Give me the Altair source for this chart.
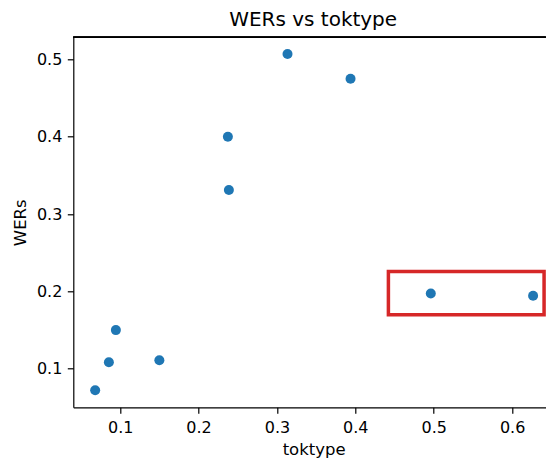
import altair as alt
import pandas as pd

# data
toktype = [0.0681, 0.0856, 0.0945, 0.150, 0.2374, 0.2387, 0.3135, 0.3939, 0.4963, 0.6268]
wers = [0.0722, 0.1084, 0.150, 0.111, 0.400, 0.331, 0.507, 0.475, 0.1974, 0.1943]

# highlight box (data coordinates)
box_x = [0.4422]
box_x2 = [0.6408]
box_y = [0.2258]
box_y2 = [0.1698]

x_domain = [0.0402, 0.6430]
y_domain = [0.0502, 0.5285]
x_ticks = [0.1, 0.2, 0.3, 0.4, 0.5, 0.6]
y_ticks = [0.1, 0.2, 0.3, 0.4, 0.5]

W, H = 472.5, 370
FONT = "DejaVu Sans"

df = pd.DataFrame({"toktype": toktype, "WERs": wers})
box_df = pd.DataFrame({"toktype": box_x, "toktype_end": box_x2, "WERs": box_y, "WERs_end": box_y2})

x_axis = alt.Axis(values=x_ticks, format=".1f", title="toktype", labelPadding=6,
                  titleBaseline="alphabetic", titleY=47, titleX=240.3)
y_axis = alt.Axis(values=y_ticks, format=".1f", title="WERs", labelPadding=5.5,
                  titleBaseline="alphabetic", titleX=-48.3)

x_enc = alt.X("toktype:Q", scale=alt.Scale(domain=x_domain, nice=False, zero=False), axis=x_axis)
y_enc = alt.Y("WERs:Q", scale=alt.Scale(domain=y_domain, nice=False, zero=False), axis=y_axis)

points = alt.Chart(df).mark_circle(size=100, color="#1f77b4", opacity=1).encode(x=x_enc, y=y_enc)

box = alt.Chart(box_df).mark_rect(fill=None, stroke="#d62728", strokeWidth=3.5).encode(
    x=x_enc, x2="toktype_end:Q", y=y_enc, y2="WERs_end:Q"
)

top_spine = alt.Chart(df).mark_rule(color="black", strokeWidth=1.2).encode(
    x=alt.value(0), x2=alt.value(W), y=alt.value(0)
)

chart = alt.layer(points, box, top_spine).properties(
    width=W,
    height=H,
    background="white",
    autosize=alt.AutoSizeParams(type="none"),
    padding={"left": 65.3, "top": 29.3, "right": 0, "bottom": 51},
    title=alt.TitleParams("WERs vs toktype", font=FONT, fontSize=20, fontWeight="normal",
                          color="black", anchor="middle", frame="group",
                          baseline="alphabetic", offset=-9.5, dx=3.6),
).configure_view(stroke=None).configure_axis(
    grid=False,
    domainColor="black", domainWidth=1.2,
    tickColor="black", tickWidth=1.2, tickSize=6,
    labelFont=FONT, labelFontSize=16, labelColor="black",
    titleFont=FONT, titleFontSize=16.5, titleFontWeight="normal", titleColor="black",
)

chart.save("out.html", embed_options={"renderer": "svg", "actions": False})
